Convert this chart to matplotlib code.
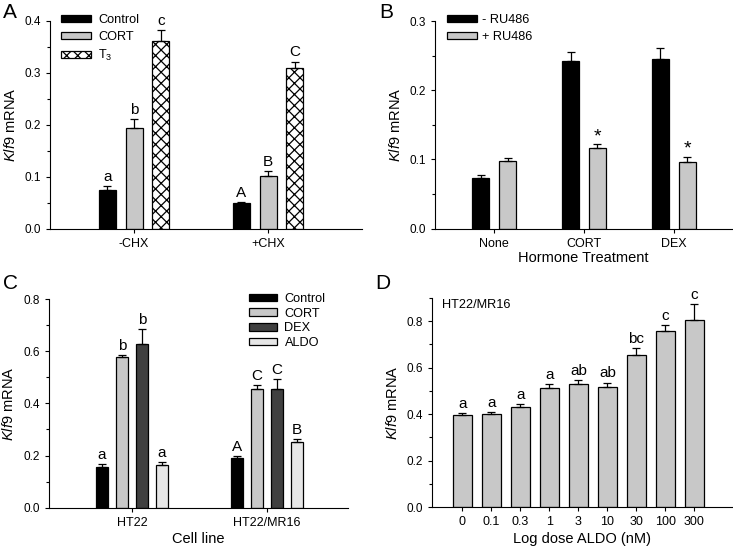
import numpy as np
import matplotlib.pyplot as plt
from matplotlib.ticker import MultipleLocator

plt.rcParams['font.family'] = 'Liberation Sans'
plt.rcParams['mathtext.fontset'] = 'custom'
plt.rcParams['mathtext.rm'] = 'Liberation Sans'
plt.rcParams['mathtext.it'] = 'Liberation Sans:italic'
plt.rcParams['hatch.linewidth'] = 0.9

# Panel A - cycloheximide
a_groups = ['-CHX', '+CHX']
a_control = [0.075, 0.050]
a_control_err = [0.007, 0.002]
a_cort = [0.194, 0.101]
a_cort_err = [0.018, 0.011]
a_t3 = [0.362, 0.309]
a_t3_err = [0.020, 0.013]
a_control_lbl = ['a', 'A']
a_cort_lbl = ['b', 'B']
a_t3_lbl = ['c', 'C']

# Panel B - RU486
b_groups = ['None', 'CORT', 'DEX']
b_minus = [0.073, 0.242, 0.245]
b_minus_err = [0.005, 0.013, 0.016]
b_plus = [0.097, 0.117, 0.096]
b_plus_err = [0.005, 0.005, 0.008]
b_plus_lbl = ['', '*', '*']

# Panel C - cell lines
c_groups = ['HT22', 'HT22/MR16']
c_control = [0.157, 0.189]
c_control_err = [0.010, 0.010]
c_cort = [0.576, 0.455]
c_cort_err = [0.010, 0.014]
c_dex = [0.626, 0.457]
c_dex_err = [0.058, 0.036]
c_aldo = [0.164, 0.253]
c_aldo_err = [0.011, 0.010]
c_control_lbl = ['a', 'A']
c_cort_lbl = ['b', 'C']
c_dex_lbl = ['b', 'C']
c_aldo_lbl = ['a', 'B']

# Panel D - ALDO dose response
d_doses = ['0', '0.1', '0.3', '1', '3', '10', '30', '100', '300']
d_vals = [0.397, 0.402, 0.429, 0.514, 0.530, 0.517, 0.655, 0.757, 0.806]
d_err = [0.008, 0.008, 0.015, 0.015, 0.018, 0.019, 0.030, 0.025, 0.067]
d_lbl = ['a', 'a', 'a', 'a', 'ab', 'ab', 'bc', 'c', 'c']

gray = '#c8c8c8'
dark = '#404040'
light = '#e6e6e6'

ytick_fs = 8.5
xtick_fs = 9
lab_fs = 10.5
leg_fs = 9.2
let_fs = 11


def style_axis(ax):
    ax.spines['top'].set_visible(False)
    ax.spines['right'].set_visible(False)
    ax.tick_params(axis='both', direction='out', length=3, width=0.8)
    ax.tick_params(axis='y', labelsize=ytick_fs)
    ax.tick_params(axis='x', labelsize=xtick_fs)
    ax.tick_params(axis='y', which='minor', direction='out', length=2, width=0.8)
    ax.set_ylabel(r'$\mathit{Klf9}$ mRNA', fontsize=lab_fs, labelpad=5)


def bars(ax, x, vals, errs, color, w, hatch=None, label=None, letters=None):
    b = ax.bar(x, vals, w, color=color, edgecolor='black', linewidth=0.9,
               hatch=hatch, label=label, zorder=2)
    ax.errorbar(x, vals, yerr=[np.zeros(len(errs)), errs], fmt='none', ecolor='black',
                elinewidth=0.9, capsize=3, capthick=0.9, zorder=3)
    if letters is not None:
        for xi, v, e, t in zip(x, vals, errs, letters):
            ax.annotate(t, (xi, v + e), xytext=(0, 1.5), textcoords='offset points',
                        ha='center', va='bottom', fontsize=let_fs)
    return b


fig = plt.figure(figsize=(7.33, 5.46), dpi=100)

# ---- A
ax = fig.add_axes([0.0682, 0.5806, 0.4256, 0.381])
xa = np.arange(len(a_groups))
w = 0.127
bars(ax, xa - 0.2, a_control, a_control_err, 'black', w, label='Control', letters=a_control_lbl)
bars(ax, xa, a_cort, a_cort_err, gray, w, label='CORT', letters=a_cort_lbl)
bars(ax, xa + 0.2, a_t3, a_t3_err, 'white', w, hatch='xxx', label=r'T$_3$', letters=a_t3_lbl)
ax.set_xlim(-0.627, 1.70)
ax.set_ylim(0, 0.4)
ax.set_xticks(xa)
ax.set_xticklabels(a_groups, fontsize=9.5)
ax.yaxis.set_major_locator(MultipleLocator(0.1))
ax.yaxis.set_minor_locator(MultipleLocator(0.05))
style_axis(ax)
ax.legend(loc='upper left', bbox_to_anchor=(0.035, 1.035), frameon=False, fontsize=leg_fs,
          handlelength=2.35, handleheight=0.5, labelspacing=0.4, handletextpad=0.55,
          borderpad=0, borderaxespad=0)
fig.text(0.004, 0.995, 'A', fontsize=15, va='top', ha='left')

# ---- B
ax = fig.add_axes([0.5935, 0.5815, 0.4052, 0.380])
xb = np.arange(len(b_groups))
w = 0.19
bars(ax, xb - 0.15, b_minus, b_minus_err, 'black', w, label='- RU486')
bars(ax, xb + 0.15, b_plus, b_plus_err, gray, w, label='+ RU486')
for xi, v, e, t in zip(xb + 0.15, b_plus, b_plus_err, b_plus_lbl):
    ax.annotate(t, (xi, v + e), xytext=(0, -1), textcoords='offset points',
                ha='center', va='bottom', fontsize=14)
ax.set_xlim(-0.66, 2.65)
ax.set_ylim(0, 0.3)
ax.set_xticks(xb)
ax.set_xticklabels(b_groups)
ax.yaxis.set_major_locator(MultipleLocator(0.1))
ax.yaxis.set_minor_locator(MultipleLocator(0.05))
style_axis(ax)
ax.set_xlabel('Hormone Treatment', fontsize=lab_fs, labelpad=1)
ax.legend(loc='upper left', bbox_to_anchor=(0.04, 1.035), frameon=False, fontsize=leg_fs,
          handlelength=2.35, handleheight=0.5, labelspacing=0.4, handletextpad=0.4,
          borderpad=0, borderaxespad=0)
fig.text(0.518, 0.995, 'B', fontsize=15, va='top', ha='left')

# ---- C
ax = fig.add_axes([0.0668, 0.0701, 0.408, 0.3822])
xc = np.arange(len(c_groups))
w = 0.09
bars(ax, xc - 0.222, c_control, c_control_err, 'black', w, label='Control', letters=c_control_lbl)
bars(ax, xc - 0.074, c_cort, c_cort_err, gray, w, label='CORT', letters=c_cort_lbl)
bars(ax, xc + 0.074, c_dex, c_dex_err, dark, w, label='DEX', letters=c_dex_lbl)
bars(ax, xc + 0.222, c_aldo, c_aldo_err, light, w, label='ALDO', letters=c_aldo_lbl)
ax.set_xlim(-0.615, 1.60)
ax.set_ylim(0, 0.8)
ax.set_xticks(xc)
ax.set_xticklabels(c_groups)
ax.yaxis.set_major_locator(MultipleLocator(0.2))
ax.yaxis.set_minor_locator(MultipleLocator(0.1))
style_axis(ax)
ax.set_xlabel('Cell line', fontsize=lab_fs, labelpad=2)
ax.legend(loc='upper left', bbox_to_anchor=(0.67, 1.03), frameon=False, fontsize=leg_fs,
          handlelength=2.2, handleheight=0.5, labelspacing=0.22, handletextpad=0.55,
          borderpad=0, borderaxespad=0)
fig.text(0.004, 0.499, 'C', fontsize=15, va='top', ha='left')

# ---- D
ax = fig.add_axes([0.5894, 0.0714, 0.4093, 0.3828])
xd = np.arange(len(d_doses))
bars(ax, xd, d_vals, d_err, gray, 0.64, letters=d_lbl)
ax.set_xlim(-1.05, 9.3)
ax.set_ylim(0, 0.9)
ax.set_xticks(xd)
ax.set_xticklabels(d_doses, fontsize=8.5)
ax.yaxis.set_major_locator(MultipleLocator(0.2))
ax.yaxis.set_minor_locator(MultipleLocator(0.1))
style_axis(ax)
ax.set_xlabel('Log dose ALDO (nM)', fontsize=lab_fs, labelpad=3)
ax.text(0.033, 0.965, 'HT22/MR16', transform=ax.transAxes, fontsize=leg_fs,
        ha='left', va='center')
fig.text(0.512, 0.499, 'D', fontsize=15, va='top', ha='left')

fig.savefig('out.png', dpi=100)
